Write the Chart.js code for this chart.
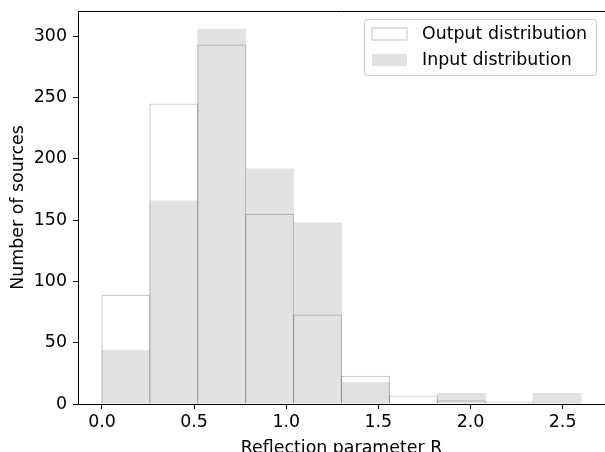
<!DOCTYPE html>
<html>
<head>
<meta charset="utf-8">
<script src="https://cdn.jsdelivr.net/npm/chart.js@4/dist/chart.umd.min.js"></script>
<style>
  html, body { margin: 0; padding: 0; background: #fff; }
  #wrap { width: 605px; height: 452px; }
</style>
</head>
<body>
<div id="wrap"><canvas id="histChart"></canvas></div>
<script>
// bin centres (width 0.26) and counts
const binCenters = [0.13, 0.39, 0.65, 0.91, 1.17, 1.43, 1.69, 1.95, 2.21, 2.47];
const outputCounts = [89, 245, 293, 155, 73, 23, 7, 3, 2];
const inputCounts = [44, 166, 306, 192, 148, 18, 0, 9, 0, 9];
const xTicks = [0.0, 0.5, 1.0, 1.5, 2.0, 2.5];
const yTicks = [0, 50, 100, 150, 200, 250, 300];

const fontFam = "'DejaVu Sans', sans-serif";
const fontSize = 17.4;

function toPoints(counts) {
    return counts.map((c, i) => ({ x: binCenters[i], y: c }));
}

// top spine + legend box like matplotlib
const extras = {
    id: 'extras',
    afterDraw(chart) {
        const c = chart.ctx;
        const a = chart.chartArea;
        c.save();
        c.strokeStyle = '#000';
        c.lineWidth = 1;
        c.beginPath();
        c.moveTo(a.left, a.top + 0.5);
        c.lineTo(a.right, a.top + 0.5);
        c.stroke();

        // legend
        const bx = 364.5, by = 19.5, bw = 232, bh = 56;
        c.fillStyle = 'rgba(255,255,255,0.8)';
        c.strokeStyle = '#cccccc';
        c.beginPath();
        c.roundRect(bx, by, bw, bh, 3);
        c.fill();
        c.stroke();

        c.fillStyle = '#fff';
        c.strokeStyle = 'rgba(0,0,0,0.2)';
        c.lineWidth = 1.2;
        c.fillRect(372, 28, 35, 12);
        c.strokeRect(372, 28, 35, 12);
        c.fillStyle = 'rgb(226,226,226)';
        c.fillRect(372, 54, 35, 12);

        c.fillStyle = '#000';
        c.font = fontSize + 'px ' + fontFam;
        c.textBaseline = 'middle';
        c.textAlign = 'left';
        chart.data.datasets.forEach((ds, i) => {
            c.fillText(ds.label, 422, 34.5 + i * 26);
        });
        c.restore();
    }
};

let ctx = document.getElementById('histChart').getContext('2d');
let histChart = new Chart(ctx, {
    type: 'bar',
    data: {
        datasets: [{
            label: 'Output distribution',
            data: toPoints(outputCounts),
            backgroundColor: 'rgba(255,255,255,0)',
            borderColor: 'rgba(0,0,0,0.2)',
            borderWidth: 1.2,
            barPercentage: 1.025
        }, {
            label: 'Input distribution',
            data: toPoints(inputCounts),
            backgroundColor: 'rgb(226,226,226)',
            borderWidth: 0,
            barPercentage: 1.02
        }]
    },
    plugins: [extras],
    options: {
        responsive: true,
        maintainAspectRatio: false,
        animation: false,
        grouped: false,
        barPercentage: 1,
        categoryPercentage: 1,
        layout: {
            padding: { top: 11, right: -1, left: 0, bottom: 0 }
        },
        plugins: {
            legend: { display: false },
            tooltip: { enabled: false }
        },
        scales: {
            x: {
                type: 'linear',
                offset: false,
                min: -0.13,
                max: 2.73,
                afterBuildTicks: (s) => { s.ticks = xTicks.map(v => ({ value: v })); },
                afterFit: (s) => { s.height = 48; s.paddingLeft = 0; s.paddingRight = 0; },
                grid: {
                    offset: false,
                    drawOnChartArea: false,
                    tickLength: 5,
                    color: '#000'
                },
                border: { color: '#000', width: 1 },
                ticks: {
                    color: '#000',
                    padding: 3,
                    maxRotation: 0,
                    font: { family: fontFam, size: fontSize },
                    callback: (v) => Number(v).toFixed(1)
                },
                title: {
                    display: true,
                    text: 'Reflection parameter R',
                    color: '#000',
                    padding: { top: 0, bottom: -6.5 },
                    font: { family: fontFam, size: fontSize }
                }
            },
            y: {
                min: 0,
                max: 320.4,
                afterBuildTicks: (s) => { s.ticks = yTicks.map(v => ({ value: v })); },
                afterFit: (s) => { s.width = 78; s.paddingTop = 0; s.paddingBottom = 0; },
                grid: {
                    offset: false,
                    drawOnChartArea: false,
                    tickLength: 5,
                    color: '#000'
                },
                border: { color: '#000', width: 1 },
                ticks: {
                    color: '#000',
                    padding: 6,
                    font: { family: fontFam, size: fontSize }
                },
                title: {
                    display: true,
                    text: 'Number of sources',
                    color: '#000',
                    padding: { top: 8, bottom: 0 },
                    font: { family: fontFam, size: fontSize }
                }
            }
        }
    }
});
</script>
</body>
</html>
